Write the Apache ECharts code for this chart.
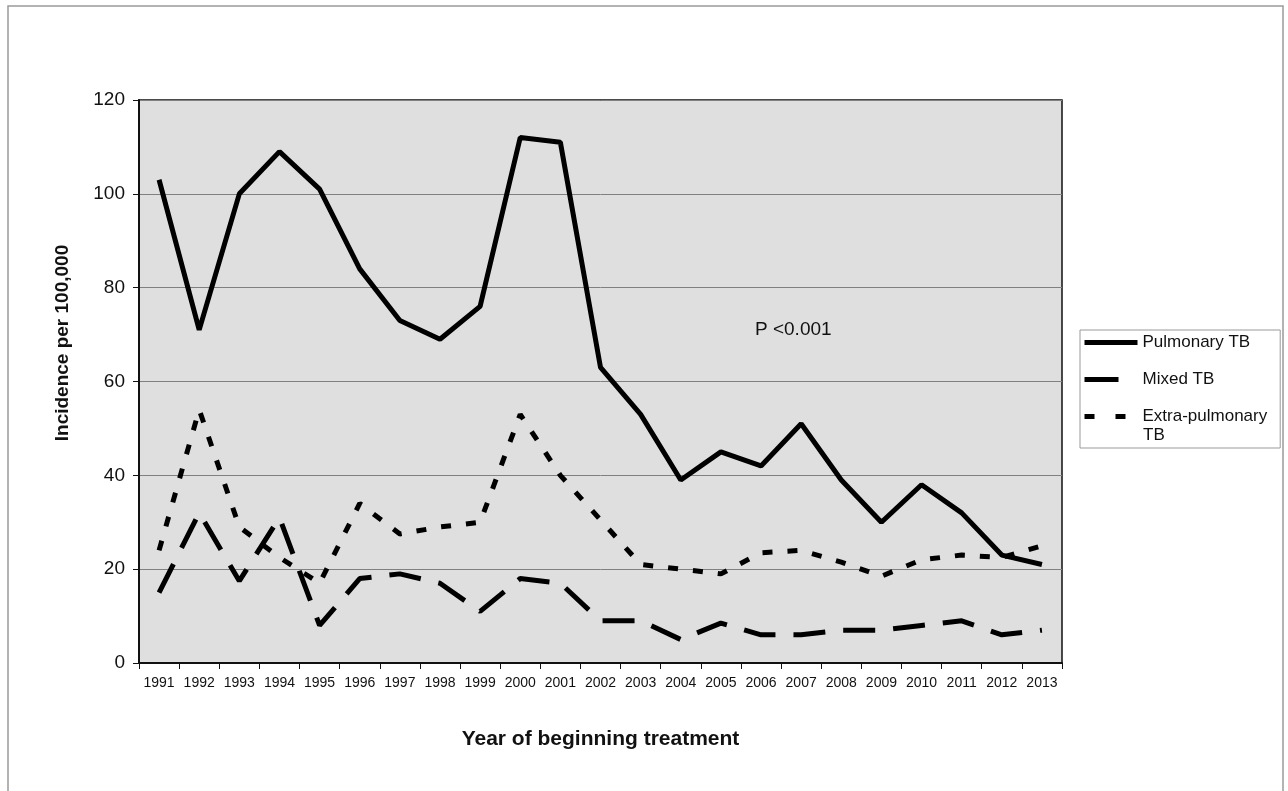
<!DOCTYPE html>
<html>
<head>
<meta charset="utf-8">
<script src="https://cdn.jsdelivr.net/npm/echarts@6/dist/echarts.min.js"></script>
<style>
  html, body { margin: 0; padding: 0; background: #fff; }
  #chart { width: 1288px; height: 791px; }
</style>
</head>
<body>
<div id="chart"></div>
<script>
// ---- Data ----
const years = ['1991','1992','1993','1994','1995','1996','1997','1998','1999','2000','2001','2002',
               '2003','2004','2005','2006','2007','2008','2009','2010','2011','2012','2013'];
const pulmonary = [103, 71, 100, 109, 101, 84, 73, 69, 76, 112, 111, 63, 53, 39, 45, 42, 51, 39, 30, 38, 32, 23, 21];
const mixed = [15, 32, 17.5, 31, 8, 18, 19, 17, 11, 18, 17, 9, 9, 5, 8.5, 6, 6, 7, 7, 8, 9, 6, 7];
const extraPulmonary = [24, 54, 29, 22.5, 17, 34, 27.5, 29, 30, 53, 40, 30.5, 21, 20, 19, 23.5, 24, 21.5, 18.5, 22, 23, 22.5, 25];
const yTicks = { min: 0, max: 120, interval: 20 };
const seriesNames = ['Pulmonary TB', 'Mixed TB', 'Extra-pulmonary TB'];

const FONT = "'Liberation Sans', Arial, Helvetica, sans-serif";
const chart = echarts.init(document.getElementById('chart'));

chart.setOption({
  animation: false,
  backgroundColor: '#ffffff',
  textStyle: { fontFamily: FONT, color: '#111' },
  grid: {
    left: 139, top: 100, right: 226, bottom: 128,
    show: true, backgroundColor: '#dfdfdf', borderColor: '#111', borderWidth: 1.5
  },
  legend: {
    orient: 'vertical',
    left: 1080, top: 330,
    data: [
      { name: seriesNames[0], lineStyle: { width: 5, type: 'solid' } },
      { name: seriesNames[1], lineStyle: { width: 5, type: [34, 30] } },
      { name: seriesNames[2], lineStyle: { width: 5, type: [10, 21] } }
    ],
    borderColor: '#999', borderWidth: 1,
    backgroundColor: '#fff',
    padding: [3, 13, 22, 2],
    itemWidth: 53, itemHeight: 14, itemGap: 18,
    itemStyle: { color: 'rgba(0,0,0,0)', borderWidth: 0, opacity: 0 },
    lineStyle: { width: 5, color: '#000', cap: 'butt' },
    textStyle: { fontFamily: FONT, fontSize: 17, color: '#111', lineHeight: 19 },
    formatter: function (name) {
      return name === 'Extra-pulmonary TB' ? 'Extra-pulmonary' : name;
    }
  },
  xAxis: {
    type: 'category',
    data: years,
    boundaryGap: true,
    name: 'Year of beginning treatment',
    nameLocation: 'middle',
    nameGap: 66,
    nameTextStyle: { fontFamily: FONT, fontSize: 21, fontWeight: 'bold', color: '#111' },
    axisLine: { lineStyle: { color: '#111', width: 2 } },
    axisTick: { show: true, length: 6, lineStyle: { color: '#111', width: 1 } },
    axisLabel: { fontFamily: FONT, fontSize: 14, color: '#111', margin: 13, interval: 0 },
    splitLine: { show: false }
  },
  yAxis: {
    type: 'value',
    min: yTicks.min, max: yTicks.max, interval: yTicks.interval,
    axisLine: { show: true, lineStyle: { color: '#111', width: 2 } },
    axisTick: { show: true, length: 6, lineStyle: { color: '#111', width: 1 } },
    axisLabel: { fontFamily: FONT, fontSize: 19, color: '#111', margin: 14 },
    splitLine: { show: true, lineStyle: { color: '#808080', width: 1 } }
  },
  graphic: [
    {
      type: 'rect', silent: true, z: -10,
      shape: { x: 8, y: 6, width: 1275, height: 820 },
      style: { fill: 'none', stroke: '#9a9a9a', lineWidth: 1.5 }
    },
    {
      type: 'text', x: 63, y: 343, rotation: Math.PI / 2,
      style: {
        text: 'Incidence per 100,000', font: "bold 19px " + FONT, fill: '#111',
        textAlign: 'center', textVerticalAlign: 'middle'
      }
    },
    {
      type: 'text', x: 755, y: 330, z: 10,
      style: {
        text: 'P <0.001', font: "19px " + FONT, fill: '#111',
        textAlign: 'left', textVerticalAlign: 'middle'
      }
    },
    {
      type: 'text', x: 1143, y: 435, z: 100,
      style: {
        text: 'TB', font: "17px " + FONT, fill: '#111',
        textAlign: 'left', textVerticalAlign: 'middle'
      }
    }
  ],
  series: [
    {
      name: seriesNames[0], type: 'line', data: pulmonary,
      symbol: 'circle', showSymbol: false, z: 3,
      lineStyle: { color: '#000', width: 5, type: 'solid', cap: 'butt', join: 'bevel' },
      itemStyle: { color: '#000' }
    },
    {
      name: seriesNames[1], type: 'line', data: mixed,
      symbol: 'circle', showSymbol: false, z: 2,
      lineStyle: { color: '#000', width: 5, type: [32, 18], cap: 'butt', join: 'bevel' },
      itemStyle: { color: '#000' }
    },
    {
      name: seriesNames[2], type: 'line', data: extraPulmonary,
      symbol: 'circle', showSymbol: false, z: 2,
      lineStyle: { color: '#000', width: 5, type: [10, 15], cap: 'butt', join: 'bevel' },
      itemStyle: { color: '#000' }
    }
  ]
});
</script>
</body>
</html>
